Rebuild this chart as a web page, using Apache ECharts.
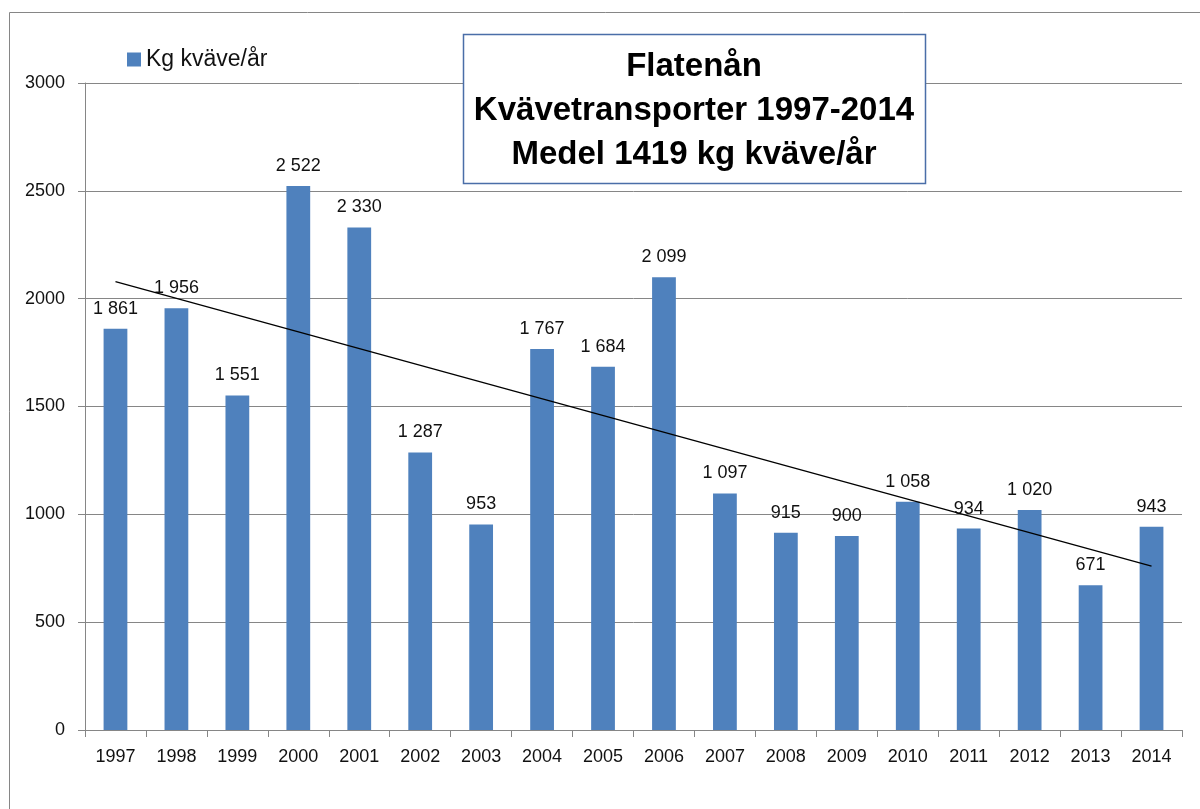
<!DOCTYPE html>
<html>
<head>
<meta charset="utf-8">
<script src="https://cdn.jsdelivr.net/npm/echarts@6/dist/echarts.min.js"></script>
<style>html,body{margin:0;padding:0;background:#fff}#c{width:1200px;height:809px}</style>
</head>
<body>
<div id="c"></div>
<script>
const years = ['1997','1998','1999','2000','2001','2002','2003','2004','2005','2006','2007','2008','2009','2010','2011','2012','2013','2014'];
const kgKvave = [1861,1956,1551,2522,2330,1287,953,1767,1684,2099,1097,915,900,1058,934,1020,671,943];
const yTicks = {min: 0, max: 3000, interval: 500};
const seriesName = 'Kg kväve/år';
const titleLines = ['Flatenån', 'Kvävetransporter 1997-2014', 'Medel 1419 kg kväve/år'];

// linear trend line (least squares) through the bar values, as in the original
function linearTrend(vals) {
  const n = vals.length;
  let sx = 0, sy = 0, sxy = 0, sxx = 0;
  vals.forEach((v, i) => { sx += i; sy += v; sxy += i * v; sxx += i * i; });
  const b = (n * sxy - sx * sy) / (n * sxx - sx * sx);
  const a = (sy - b * sx) / n;
  return vals.map((v, i) => (i === 0 || i === n - 1) ? a + b * i : null);
}
const trend = linearTrend(kgKvave);

function fmt(v) {
  if (v >= 1000) {
    const r = v % 1000;
    return Math.floor(v / 1000) + ' ' + String(r).padStart(3, '0');
  }
  return String(v);
}

const FONT = 'Liberation Sans';
const chart = echarts.init(document.getElementById('c'));
chart.setOption({
  animation: false,
  backgroundColor: '#fff',
  textStyle: {fontFamily: FONT},
  grid: {left: 85, right: 18, top: 83, bottom: 79, containLabel: false},
  legend: {
    data: [seriesName],
    left: 122, top: 43,
    icon: 'rect', itemWidth: 14, itemHeight: 14, itemGap: 5,
    textStyle: {fontFamily: FONT, fontSize: 23, color: '#111'}
  },
  xAxis: {
    type: 'category',
    data: years,
    boundaryGap: true,
    axisLine: {lineStyle: {color: '#868686', width: 1}},
    axisTick: {show: true, length: 7, alignWithLabel: false, lineStyle: {color: '#868686'}},
    axisLabel: {fontFamily: FONT, fontSize: 18, color: '#111', margin: 18, interval: 0}
  },
  yAxis: {
    type: 'value',
    min: yTicks.min, max: yTicks.max, interval: yTicks.interval,
    axisLine: {show: true, lineStyle: {color: '#868686', width: 1}},
    axisTick: {show: true, length: 7, lineStyle: {color: '#868686'}},
    axisLabel: {fontFamily: FONT, fontSize: 18, color: '#111', margin: 20, formatter: v => String(v)},
    splitLine: {show: true, lineStyle: {color: '#868686', width: 1}}
  },
  series: [
    {
      name: seriesName,
      type: 'bar',
      data: kgKvave,
      barWidth: '39%',
      itemStyle: {color: '#4f81bd'},
      label: {
        show: true, position: 'top', distance: 11,
        fontFamily: FONT, fontSize: 18, color: '#111',
        formatter: p => fmt(p.value)
      },
      z: 2
    },
    {
      name: 'trend',
      type: 'line',
      data: trend,
      connectNulls: true,
      showSymbol: false,
      symbol: 'none',
      lineStyle: {color: '#000', width: 1.3},
      silent: true,
      z: 3
    }
  ],
  graphic: [
    {
      type: 'rect', z: 0, silent: true,
      shape: {x: 9.5, y: 12.5, width: 1400, height: 1000},
      style: {fill: 'none', stroke: '#868686', lineWidth: 1}
    },
    {
      type: 'rect', z: 100, silent: true,
      shape: {x: 463.5, y: 34.5, width: 462, height: 149},
      style: {fill: '#fff', stroke: '#4a6ea8', lineWidth: 1.5}
    },
    {
      type: 'text', z: 101, silent: true,
      x: 694, y: 111,
      style: {
        text: titleLines.join('\n'),
        fontFamily: FONT, fontSize: 33, fontWeight: 'bold', fill: '#000',
        align: 'center', verticalAlign: 'middle', lineHeight: 44
      }
    }
  ]
});
</script>
</body>
</html>
